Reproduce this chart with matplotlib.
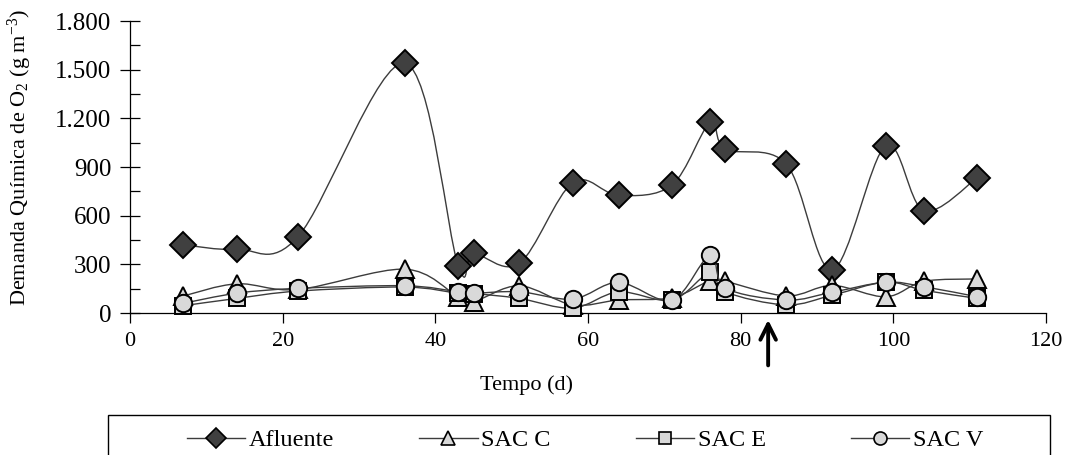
import matplotlib
matplotlib.use("Agg")
import matplotlib.pyplot as plt
import numpy as np
from matplotlib.path import Path
from matplotlib.patches import PathPatch, Rectangle
from matplotlib.ticker import FuncFormatter, MultipleLocator
from matplotlib.lines import Line2D

# ---- data ----
days = [7, 14, 22, 36, 43, 45, 51, 58, 64, 71, 76, 78, 86, 92, 99, 104, 111]
afluente = [420, 393, 470, 1540, 292, 368, 306, 803, 725, 789, 1175, 1009, 917, 265, 1031, 631, 834]
sac_c = [105, 180, 145, 270, 100, 70, 168, 50, 80, 95, 200, 195, 105, 170, 100, 195, 210]
sac_e = [45, 90, 135, 160, 122, 120, 90, 30, 130, 80, 250, 130, 50, 110, 190, 140, 90]
sac_v = [60, 122, 152, 168, 131, 122, 131, 86, 189, 80, 357, 155, 80, 128, 190, 162, 100]
series_names = ["Afluente", "SAC C", "SAC E", "SAC V"]
x_ticks = [0, 20, 40, 60, 80, 100, 120]
y_ticks = [0, 300, 600, 900, 1200, 1500, 1800]
arrow_day = 83.6

plt.rcParams['font.family'] = ['Liberation Serif', 'DejaVu Serif']
plt.rcParams['mathtext.default'] = 'regular'

W, H = 1077, 455
fig = plt.figure(figsize=(W / 100, H / 100), dpi=100)
ax = fig.add_axes([130 / W, 1 - 313 / H, (1046 - 130) / W, (313 - 21) / H])


def smooth_path(x, y):
    pts = np.column_stack([x, y]).astype(float)
    n = len(pts)
    verts = [pts[0]]
    codes = [Path.MOVETO]
    for i in range(n - 1):
        p0 = pts[i - 1] if i > 0 else pts[i]
        p1 = pts[i]
        p2 = pts[i + 1]
        p3 = pts[i + 2] if i + 2 < n else pts[i + 1]
        c1 = p1 + (p2 - p0) / 6.0
        c2 = p2 - (p3 - p1) / 6.0
        verts += [c1, c2, p2]
        codes += [Path.CURVE4] * 3
    return Path(verts, codes)


line_col = '#3c3c3c'
styles = [
    dict(marker='D', mfc='#404040', ms=13.5),
    dict(marker='^', mfc='#d9d9d9', ms=12.5),
    dict(marker='s', mfc='#d9d9d9', ms=11.5),
    dict(marker='o', mfc='#d9d9d9', ms=12.5),
]
data = [afluente, sac_c, sac_e, sac_v]

for k, (vals, st) in enumerate(zip(data, styles)):
    z = 3 + 2 * k
    ax.add_patch(PathPatch(smooth_path(days, vals), fill=False, edgecolor=line_col,
                           lw=1.0, zorder=z, transform=ax.transData))
    ax.plot(days, vals, linestyle='none', marker=st['marker'], ms=st['ms'],
            mfc=st['mfc'], mec='black', mew=1.4, zorder=z + 1, clip_on=False)

ax.set_xlim(0, 120)
ax.set_ylim(0, 1800)
ax.set_xticks(x_ticks)
ax.set_yticks(y_ticks)
ax.yaxis.set_minor_locator(MultipleLocator(150))
ax.yaxis.set_major_formatter(FuncFormatter(lambda v, p: f"{int(v):,}".replace(",", ".")))

for s in ['top', 'right']:
    ax.spines[s].set_visible(False)
for s in ['left', 'bottom']:
    ax.spines[s].set_linewidth(0.9)
    ax.spines[s].set_color('black')

ax.tick_params(axis='y', which='major', direction='inout', length=15, width=0.9,
               pad=6, labelsize=18)
ax.tick_params(axis='y', which='minor', direction='in', length=7, width=0.9)
ax.tick_params(axis='x', which='major', direction='out', length=7, width=0.9,
               pad=7, labelsize=16)

fig.text(20 / W, 1 - 158 / H, r"Demanda Química de O$_2$ (g m$^{-3}$)", rotation=90,
         ha='center', va='center', fontsize=16)
fig.text(527 / W, 1 - 385 / H, "Tempo (d)", ha='center', va='center', fontsize=16)

# arrow below axis
ax.annotate("", xy=(arrow_day, -25), xytext=(arrow_day, -340),
            xycoords='data', textcoords='data', annotation_clip=False,
            arrowprops=dict(arrowstyle='->', lw=2.8, color='black', mutation_scale=28))

# legend
handles = [Line2D([0], [0], color=line_col, lw=1.0, marker=st['marker'], ms=st['ms'] * 0.75,
                  mfc=st['mfc'], mec='black', mew=1.2) for st in styles]
leg = fig.legend(handles, series_names, loc='center', bbox_to_anchor=(585 / W, 1 - 440 / H),
                 ncol=4, frameon=False, fontsize=17.5, handlelength=2.4, handletextpad=0.15,
                 columnspacing=3.5)
fig.add_artist(Rectangle((108 / W, -0.2), (1050 - 108) / W, 0.2 + 1 - 415 / H,
                         transform=fig.transFigure, fill=False, edgecolor='black', lw=1.0))

fig.savefig("out.png", dpi=100)
